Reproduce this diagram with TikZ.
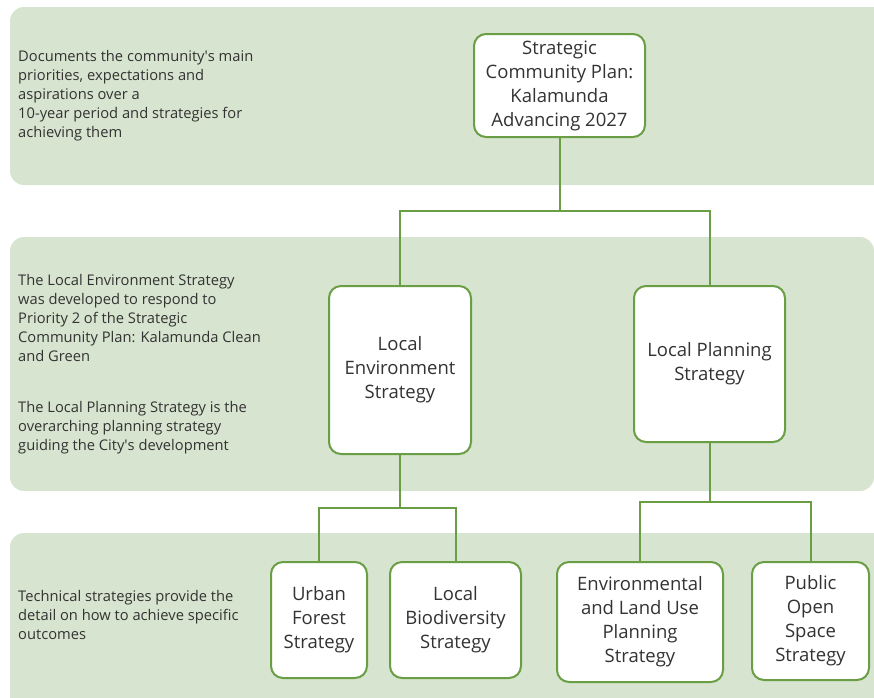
\documentclass[tikz,border=0pt]{standalone}
\usepackage{fontspec}
\setmainfont{Open Sans}
\definecolor{bandfill}{HTML}{D7E4CF}
\definecolor{lgreen}{HTML}{6A9E45}
\definecolor{txt}{HTML}{333333}
\newcommand{\apos}{\textquotesingle}
\begin{document}
\begin{tikzpicture}[x=1pt,y=-1pt,
  band/.style={fill=bandfill,draw=none,rounded corners=14pt},
  sidetext/.style={anchor=north west,inner sep=0pt,align=left,text=txt,font=\fontsize{14.7}{19}\selectfont},
  box/.style={draw=lgreen,line width=2pt,fill=white,rounded corners=12pt,align=center,text=txt,inner sep=0pt,font=\fontsize{18.5}{24}\selectfont},
  conn/.style={draw=lgreen,line width=2pt}]
\useasboundingbox (0,0) rectangle (874,697);
% bands
\path[band] (10,7) rectangle (900,185);
\path[band] (10,237) rectangle (874,491);
\path[band] (10,533) rectangle (900,720);
% side texts
\node[sidetext] (t1) at (18,50) {Documents the community\apos s main\\priorities, expectations and\\aspirations over a\\10-year period and strategies for\\achieving them};
\node[sidetext] (t2) at (18,274) {The Local Environment Strategy\\was developed to respond to\\Priority 2 of the Strategic\\Community Plan: Kalamunda Clean\\and Green};
\node[sidetext] (t3) at (18,401) {The Local Planning Strategy is the\\overarching planning strategy\\guiding the City\apos s development};
\node[sidetext] (t4) at (18,590) {Technical strategies provide the\\detail on how to achieve specific\\outcomes};
% boxes
\node[box,minimum width=171pt,minimum height=103pt] (scp) at (559.5,85.5) {Strategic\\Community Plan:\\Kalamunda\\Advancing 2027};
\node[box,minimum width=142pt,minimum height=168pt] (les) at (400,370) {Local\\Environment\\Strategy};
\node[box,minimum width=151pt,minimum height=156pt] (lps) at (709.5,364) {Local Planning\\Strategy};
\node[box,minimum width=96pt,minimum height=116pt] (ufs) at (319,620) {Urban\\Forest\\Strategy};
\node[box,minimum width=131pt,minimum height=116pt] (lbs) at (455.5,620) {Local\\Biodiversity\\Strategy};
\node[box,minimum width=166pt,minimum height=120pt] (elu) at (640,622) {Environmental\\and Land Use\\Planning\\Strategy};
\node[box,minimum width=117pt,minimum height=118pt] (pos) at (810.5,621) {Public\\Open\\Space\\Strategy};
% connectors
\coordinate (j1) at (559.5,211);
\coordinate (j2) at (400,508);
\coordinate (j3) at (709.5,502);
\draw[conn] (scp.south) -- (j1);
\draw[conn] (les.north) |- (j1) -| (lps.north);
\draw[conn] (les.south) -- (j2);
\draw[conn] (ufs.north) |- (j2) -| (lbs.north);
\draw[conn] (lps.south) -- (j3);
\draw[conn] (elu.north) |- (j3) -| (pos.north);
\end{tikzpicture}
\end{document}
